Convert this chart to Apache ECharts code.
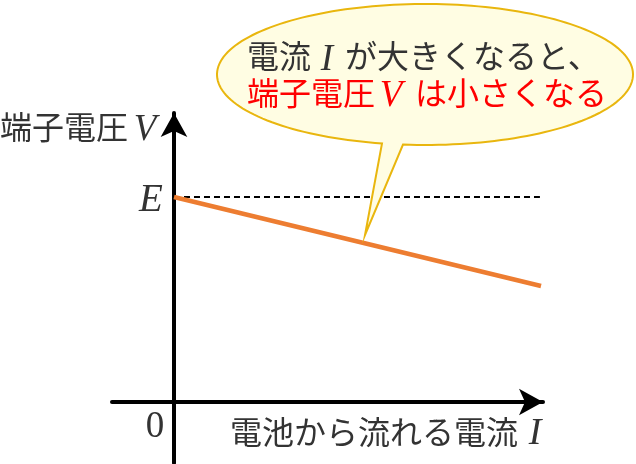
<!DOCTYPE html>
<html>
<head>
<meta charset="utf-8">
<script src="https://cdn.jsdelivr.net/npm/echarts@6/dist/echarts.min.js"></script>
<style>
html,body{margin:0;padding:0;background:#fff;}
#main{width:636px;height:464px;}
</style>
</head>
<body>
<div id="main"></div>
<script>
// Data
var currentI = [0, 10];          // current I (arbitrary units)
var voltageV = [10, 5.66];       // terminal voltage V = E - rI
var emfE = 10;                   // electromotive force E
var emfLineI = [0, 9.97];        // extent of dashed E line

var chart = echarts.init(document.getElementById('main'));
var jp = '"Noto Sans CJK JP", "Noto Sans", sans-serif';
var mathFont = '"Liberation Serif", "DejaVu Serif", serif';

// speech bubble outline (ellipse + tail)
function bubblePoints() {
  var cx = 425, cy = 74.5, rx = 208, ry = 70.5;
  var a1 = Math.acos((403 - cx) / rx);
  var a2 = Math.acos((382 - cx) / rx);
  var pts = [];
  var n = 180;
  var start = a1, end = a2 - 2 * Math.PI;
  for (var k = 0; k <= n; k++) {
    var t = start + (end - start) * k / n;
    pts.push([cx + rx * Math.cos(t), cy + ry * Math.sin(t)]);
  }
  pts.push([365, 235]);
  return pts;
}

function jpText(str, x, y, color, align) {
  return { type: 'text', z: 11, x: x, y: y,
    style: { text: str, fontFamily: jp, fontSize: 32, fill: color,
      align: align || 'left', verticalAlign: 'middle' } };
}
function mathText(str, x, y, color, size, italic) {
  return { type: 'text', z: 11, x: x, y: y,
    style: { text: str, fontFamily: mathFont, fontStyle: italic === false ? 'normal' : 'italic',
      fontSize: size || 38, fill: color, align: 'center', verticalAlign: 'middle' } };
}

var option = {
  animation: false,
  grid: { left: 112, right: 93, top: 113, bottom: 1 },
  xAxis: {
    type: 'value', min: -1.689, max: 10.054,
    axisLine: { onZero: true, symbol: ['none', 'arrow'], symbolSize: [20, 24],
      lineStyle: { color: '#000', width: 4 } },
    axisTick: { show: false }, axisLabel: { show: false }, splitLine: { show: false }
  },
  yAxis: {
    type: 'value', min: -2.976, max: 14.098,
    axisLine: { onZero: true, symbol: ['none', 'arrow'], symbolSize: [20, 24],
      lineStyle: { color: '#000', width: 4 } },
    axisTick: { show: false }, axisLabel: { show: false }, splitLine: { show: false }
  },
  series: [
    {
      type: 'line', symbol: 'none', z: 1,
      data: emfLineI.map(function (i) { return [i, emfE]; }),
      lineStyle: { color: '#000', width: 2, type: [6, 4] }
    },
    {
      type: 'line', symbol: 'none', z: 3,
      data: currentI.map(function (i, k) { return [i, voltageV[k]]; }),
      lineStyle: { color: '#ED7D31', width: 4.5 }
    }
  ],
  graphic: [
    {
      type: 'polygon', z: 10,
      shape: { points: bubblePoints() },
      style: { fill: '#FFFDE3', stroke: '#E9B60E', lineWidth: 2 }
    },
    jpText('電流', 247, 56, '#333'),
    mathText('I', 327, 60, '#333', 37),
    jpText('が大きくなると、', 345, 56, '#333'),
    jpText('端子電圧', 247, 93, '#FF0000'),
    mathText('V', 391, 96, '#FF0000', 37),
    jpText('は小さくなる', 415, 93, '#FF0000'),
    jpText('端子電圧', 0, 127, '#333'),
    mathText('V', 145, 130, '#333', 37),
    mathText('E', 151, 201, '#333', 39),
    mathText('0', 155, 427, '#333', 37, false),
    jpText('電池から流れる電流', 230, 432, '#333'),
    mathText('I', 535, 434, '#333', 38)
  ]
};
chart.setOption(option);
</script>
</body>
</html>
